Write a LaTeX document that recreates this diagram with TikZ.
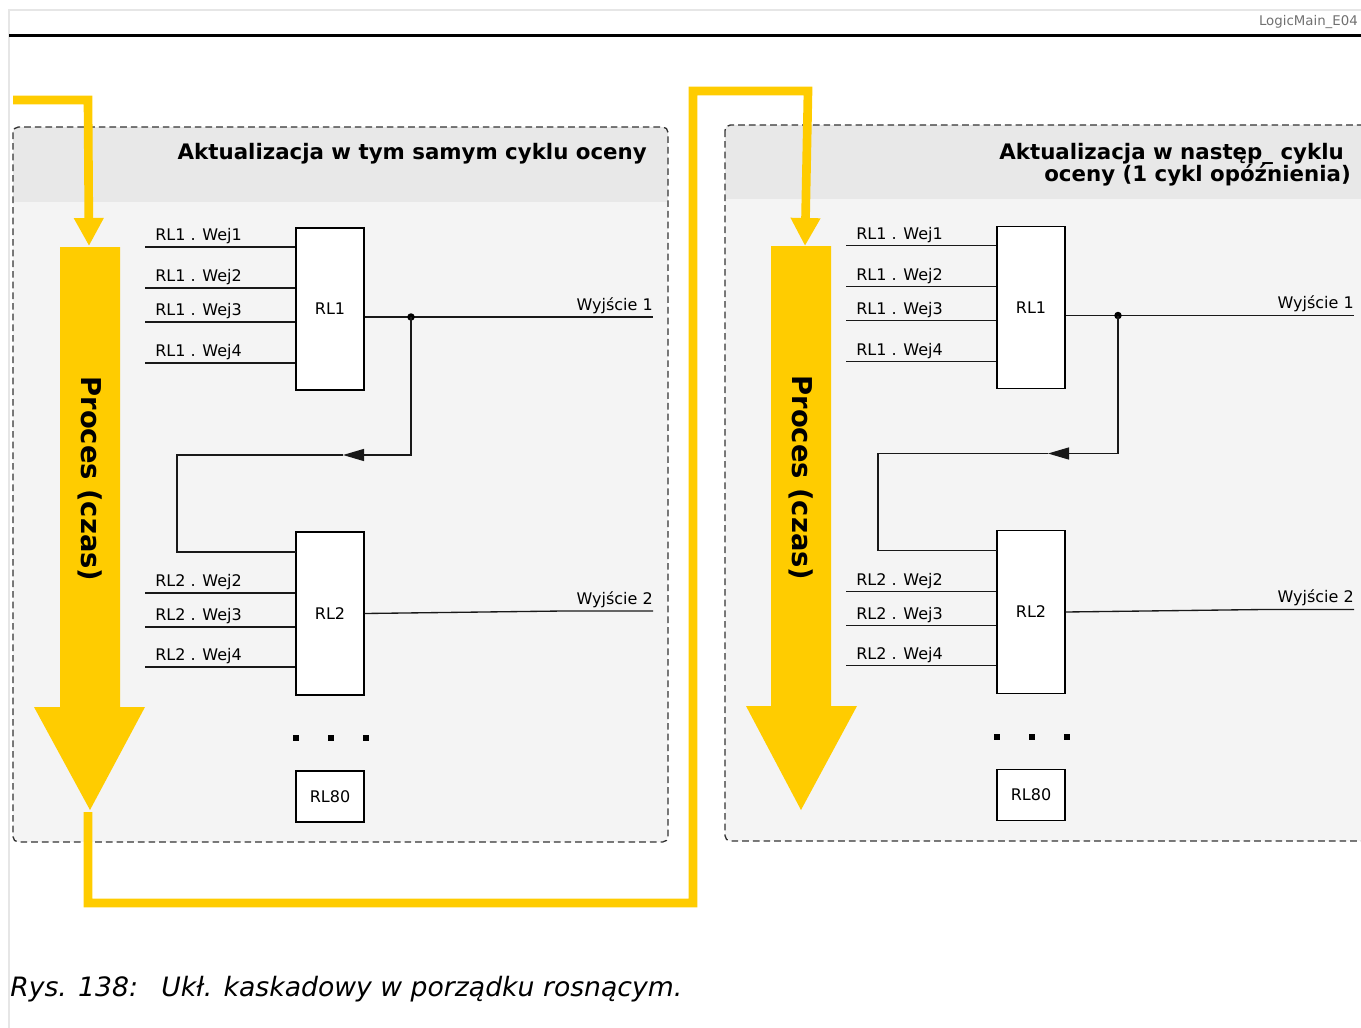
\documentclass[tikz,border=0pt]{standalone}
\usepackage{fontspec}
\setmainfont{DejaVu Sans}
\usetikzlibrary{arrows.meta,calc}
\definecolor{ylw}{HTML}{FFCC00}
\definecolor{hdr}{HTML}{E8E8E8}
\definecolor{bodyc}{HTML}{F4F4F4}
\definecolor{frm}{HTML}{E6E6E6}
\definecolor{dashc}{HTML}{333333}
\definecolor{graytxt}{HTML}{707070}
\begin{document}
\begin{tikzpicture}[x=0.75pt,y=-0.75pt,
  blk/.style={draw=black, fill=white, line width=1pt, inner sep=0pt, minimum width=51pt, font=\fontsize{12}{14}\selectfont},
  lbl/.style={inner sep=0pt, font=\fontsize{12}{14}\selectfont},
  wire/.style={line width=1pt, draw=black!90},
  ttl/.style={inner sep=0pt, font=\fontsize{16}{17}\selectfont\bfseries},
  panel/.style={draw=dashc, line width=1pt, dash pattern=on 5pt off 3pt, rounded corners=4pt},
  yline/.style={draw=ylw, line width=6.5pt, line join=miter},
  ytip/.style={-{Triangle[length=21pt,width=21pt]}},
  bigtxt/.style={inner sep=0pt, rotate=-90, font=\fontsize{20.5}{22}\selectfont\bfseries},
  captxt/.style={inner sep=0pt, font=\fontsize{20}{22}\selectfont\itshape}
]
\useasboundingbox (0,0) rectangle (1361,1028);
\clip (0,0) rectangle (1361,1028);

% frame and header rule
\draw[frm, line width=1.5pt] (9,1028) -- (9,10) -- (1361,10);
\draw[black, line width=2.25pt] (9,35) -- (1361,35);
\node[inner sep=0pt, anchor=base east, text=graytxt, font=\fontsize{10}{12}\selectfont] (code) at (1358,26) {LogicMain\_E04};

% panels
\begin{scope}
  \clip[rounded corners=4pt] (13,127) rectangle (668,842);
  \fill[bodyc] (13,127) rectangle (668,842);
  \fill[hdr] (13,127) rectangle (668,202);
\end{scope}
\draw[panel] (13,127) rectangle (668,842);
\begin{scope}
  \clip[rounded corners=4pt] (725,125) rectangle (1380,841);
  \fill[bodyc] (725,125) rectangle (1380,841);
  \fill[hdr] (725,125) rectangle (1380,199);
\end{scope}
\draw[panel] (725,125) rectangle (1380,841);

\node[ttl, anchor=base east] (tL) at (647,159.5) {Aktualizacja w tym samym cyklu oceny};
\node[ttl, anchor=base east] (tR1) at (1344,159) {Aktualizacja w następ\_ cyklu};
\node[ttl, anchor=base east] (tR2) at (1351,181) {oceny (1 cykl opóźnienia)};

% big process arrows
\fill[ylw] (60,247) -- (120,247) -- (120,707) -- (145,707) -- (90,810) -- (34,707) -- (60,707) -- cycle;
\node[bigtxt] (pL) at (90,479) {Proces (czas)};
\fill[ylw] (771,246) -- (831,246) -- (831,706) -- (857,706) -- (801,810) -- (746,706) -- (771,706) -- cycle;
\node[bigtxt] (pR) at (801,478) {Proces (czas)};

% yellow flow lines
\coordinate (y0) at (13,100);
\coordinate (y1) at (88,100);
\coordinate (y2) at (89,246);
\draw[yline, ytip] (y0) -- (y1) -- (y2);
\coordinate (b0) at (88,812);
\coordinate (b1) at (88,903);
\coordinate (b2) at (693,903);
\coordinate (b3) at (693,91);
\coordinate (b4) at (808,91);
\coordinate (b5) at (805,246);
\draw[yline, ytip] (b0) -- (b1) -- (b2) -- (b3) -- (b4) -- (b5);

% panel contents
\foreach \p/\dx/\dy/\jx/\mx in {L/0/0/411/343, R/701/-1.5/417/347} {
\begin{scope}[shift={(\dx,\dy)}]
  \node[blk, minimum height=121.5pt] (\p rl1) at (330,309) {RL1};
  \foreach \yy/\t in {247/1,288/2,322/3,363/4} {
    \coordinate (\p a\t) at (145,\yy);
    \draw[wire] (\p a\t) -- (\p a\t -| \p rl1.west);
    \node[lbl, anchor=base west] (\p la\t) at (155,{\yy-6.5}) {RL1 . Wej\t};
  }
  \coordinate (\p j) at (\jx,317);
  \coordinate (\p o1) at (653,317);
  \draw[wire] (\p rl1.east |- \p j) -- (\p o1);
  \fill (\p j) circle[radius=2.8pt];
  \node[lbl, anchor=base east] (\p w1) at (653,310) {Wyjście 1};

  \node[blk, minimum height=122.25pt] (\p rl2) at (330,613.5) {RL2};
  \coordinate (\p m) at (\mx,455);
  \coordinate (\p c) at (177,455);
  \coordinate (\p r2in) at (296,552);
  \draw[wire, -{Triangle[length=15.75pt,width=9pt]}] (\p j) |- (\p m);
  \draw[wire] (\p m) -- (\p c) |- (\p r2in);
  \foreach \yy/\t in {593/2,627/3,667/4} {
    \coordinate (\p b\t) at (145,\yy);
    \draw[wire] (\p b\t) -- (\p b\t -| \p rl2.west);
    \node[lbl, anchor=base west] (\p lb\t) at (155,{\yy-6.5}) {RL2 . Wej\t};
  }
  \coordinate (\p k) at (563,611);
  \coordinate (\p o2) at (653,611);
  \draw[wire] (\p rl2.east) -- (\p k) -- (\p o2);
  \node[lbl, anchor=base east] (\p w2) at (653,604) {Wyjście 2};

  \foreach \xx in {296,331,366} {
    \fill (\xx-3,735) rectangle (\xx+3,741);
  }
  \node[blk, minimum height=38.25pt] (\p rl80) at (330,796.5) {RL80};
\end{scope}
}

% caption
\node[captxt, anchor=base west] (c1) at (10,996.5) {Rys. 138:};
\node[captxt, anchor=base west] (c2) at (161,996.5) {Ukł. kaskadowy w porządku rosnącym.};
\end{tikzpicture}
\end{document}
